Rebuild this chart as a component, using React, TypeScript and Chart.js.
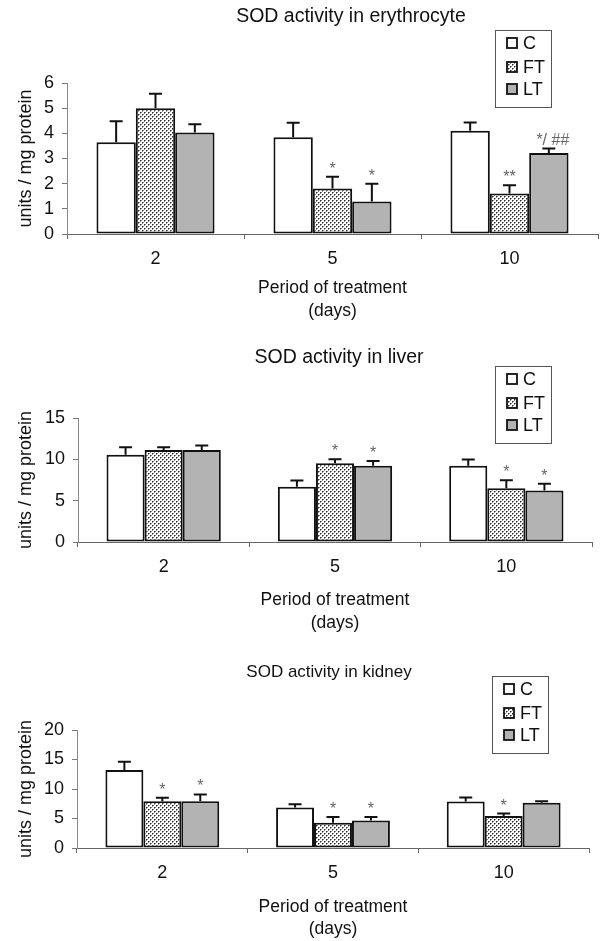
import React, { useEffect, useRef } from 'react';
import { Chart, registerables } from 'chart.js';

Chart.register(...registerables);

const FONT = "'Liberation Sans', Arial, Helvetica, sans-serif";

// ---------- data ----------
const DAYS = ['2', '5', '10'];
const SERIES = ['C', 'FT', 'LT'];
const X_TITLE = ['Period of treatment', '(days)'];
const Y_TITLE = 'units / mg protein';

// SOD activity in erythrocyte
const ERY_C = [3.65, 3.84, 4.1];
const ERY_FT = [5.0, 1.81, 1.61];
const ERY_LT = [4.03, 1.29, 3.22];
const ERY_C_ERR = [0.83, 0.58, 0.33];
const ERY_FT_ERR = [0.57, 0.46, 0.33];
const ERY_LT_ERR = [0.33, 0.71, 0.18];
const ERY_C_SIG = ['', '', ''];
const ERY_FT_SIG = ['', '*', '**'];
const ERY_LT_SIG = ['', '*', '*/ ##'];

// SOD activity in liver
const LIV_C = [10.54, 6.67, 9.21];
const LIV_FT = [11.14, 9.53, 6.51];
const LIV_LT = [11.14, 9.21, 6.23];
const LIV_C_ERR = [0.92, 0.77, 0.76];
const LIV_FT_ERR = [0.32, 0.48, 0.97];
const LIV_LT_ERR = [0.52, 0.6, 0.81];
const LIV_C_SIG = ['', '', ''];
const LIV_FT_SIG = ['', '*', '*'];
const LIV_LT_SIG = ['', '*', '*'];

// SOD activity in kidney
const KID_C = [13.2, 6.86, 7.88];
const KID_FT = [7.93, 4.3, 5.44];
const KID_LT = [7.93, 4.65, 7.65];
const KID_C_ERR = [1.4, 0.56, 0.68];
const KID_FT_ERR = [0.57, 0.97, 0.4];
const KID_LT_ERR = [1.14, 0.62, 0.28];
const KID_C_SIG = ['', '', ''];
const KID_FT_SIG = ['*', '*', '*'];
const KID_LT_SIG = ['*', '*', ''];

// ---------- panels (layout only references the data arrays) ----------
const PANELS = [
  {
    title: 'SOD activity in erythrocyte', titleSize: 19.5, top: 0, height: 325, width: 702,
    yWidth: 67, rightW: 104, titleTop: 5.3, titleBottom: 54.3, xAxisH: 91, xTitleBottom: 2.5,
    yMax: 6, yStep: 1, legendLeft: 495, legendTop: 30,
    values: [ERY_C, ERY_FT, ERY_LT], errors: [ERY_C_ERR, ERY_FT_ERR, ERY_LT_ERR], sig: [ERY_C_SIG, ERY_FT_SIG, ERY_LT_SIG],
  },
  {
    title: 'SOD activity in liver', titleSize: 19.5, top: 325, height: 312, width: 678,
    yWidth: 78, rightW: 86, titleTop: 21.3, titleBottom: 48.3, xAxisH: 95, xTitleBottom: 2.5,
    yMax: 15, yStep: 5, legendLeft: 495, legendTop: 41,
    values: [LIV_C, LIV_FT, LIV_LT], errors: [LIV_C_ERR, LIV_FT_ERR, LIV_LT_ERR], sig: [LIV_C_SIG, LIV_FT_SIG, LIV_LT_SIG],
  },
  {
    title: 'SOD activity in kidney', titleSize: 17, top: 637, height: 304, width: 658,
    yWidth: 77, rightW: 69, titleTop: 24.8, titleBottom: 47.8, xAxisH: 93, xTitleBottom: 0,
    yMax: 20, yStep: 5, legendLeft: 492, legendTop: 39,
    values: [KID_C, KID_FT, KID_LT], errors: [KID_C_ERR, KID_FT_ERR, KID_LT_ERR], sig: [KID_C_SIG, KID_FT_SIG, KID_LT_SIG],
  },
];

function dotPattern(): CanvasPattern | string {
  const c = document.createElement('canvas');
  c.width = 4;
  c.height = 4;
  const g = c.getContext('2d');
  if (!g) return '#ddd';
  g.fillStyle = '#ffffff';
  g.fillRect(0, 0, 4, 4);
  g.fillStyle = '#2a2a2a';
  g.fillRect(0, 0, 1, 1);
  g.fillRect(2, 2, 1, 1);
  g.fillStyle = '#8a8a8a';
  g.fillRect(1, 0, 1, 1);
  g.fillRect(3, 2, 1, 1);
  g.fillRect(0, 1, 1, 1);
  g.fillRect(2, 3, 1, 1);
  const p = g.createPattern(c, 'repeat');
  return p || '#ddd';
}

const overlayPlugin = {
  id: 'overlay',
  afterDatasetsDraw(chart: any) {
    const ctx = chart.ctx;
    const yScale = chart.scales.y;
    chart.data.datasets.forEach((ds: any, di: number) => {
      const meta = chart.getDatasetMeta(di);
      meta.data.forEach((bar: any, i: number) => {
        const v = ds.data[i];
        const e = ds.errors[i];
        const x = bar.x;
        const y0 = yScale.getPixelForValue(v);
        const y1 = yScale.getPixelForValue(v + e);
        ctx.save();
        ctx.strokeStyle = '#111';
        ctx.lineWidth = 2;
        ctx.beginPath();
        ctx.moveTo(x, y0);
        ctx.lineTo(x, y1);
        ctx.moveTo(x - 6.5, y1);
        ctx.lineTo(x + 6.5, y1);
        ctx.stroke();
        const s = ds.sig[i];
        if (s) {
          ctx.fillStyle = '#666';
          ctx.font = `16px ${FONT}`;
          ctx.textAlign = 'center';
          ctx.textBaseline = 'alphabetic';
          ctx.fillText(s, x + (s.length > 2 ? 4 : 0), y1 - 3);
        }
        ctx.restore();
      });
    });
  },
  afterDraw(chart: any) {
    const opts = chart.options.plugins.boxLegend;
    if (!opts) return;
    const ctx = chart.ctx;
    const left = opts.left;
    const top = opts.top;
    const w = 56;
    const h = 77;
    ctx.save();
    ctx.fillStyle = '#fff';
    ctx.fillRect(left, top, w, h);
    ctx.strokeStyle = '#555';
    ctx.lineWidth = 1;
    ctx.strokeRect(left + 0.5, top + 0.5, w, h);
    const rows = [13, 37, 59];
    chart.data.datasets.forEach((ds: any, i: number) => {
      const cy = top + rows[i];
      ctx.fillStyle = ds.backgroundColor;
      ctx.fillRect(left + 12, cy - 5, 10, 10);
      ctx.strokeStyle = '#111';
      ctx.lineWidth = 1.8;
      ctx.strokeRect(left + 12, cy - 5, 10, 10);
      ctx.fillStyle = '#111';
      ctx.font = `18px ${FONT}`;
      ctx.textAlign = 'left';
      ctx.textBaseline = 'middle';
      ctx.fillText(ds.label, left + 28, cy + 1);
    });
    ctx.restore();
  },
};

function Panel({ p }: { p: any }) {
  const ref = useRef<HTMLCanvasElement | null>(null);
  useEffect(() => {
    if (!ref.current) return;
    const pattern = dotPattern();
    const fills = ['#ffffff', pattern, '#b3b3b3'];
    const chart = new Chart(ref.current, {
      type: 'bar',
      data: {
        labels: DAYS,
        datasets: SERIES.map((name, i) => ({
          label: name,
          data: p.values[i],
          errors: p.errors[i],
          sig: p.sig[i],
          backgroundColor: fills[i],
          borderColor: '#111',
          borderWidth: 2,
          borderSkipped: false,
          categoryPercentage: 0.667,
          barPercentage: 1.0,
          yAxisID: 'y',
        })) as any,
      },
      options: {
        responsive: false,
        animation: false,
        events: [],
        layout: { padding: 0 },
        plugins: {
          legend: { display: false },
          tooltip: { enabled: false },
          title: {
            display: true,
            text: p.title,
            color: '#111',
            font: { family: FONT, size: p.titleSize, weight: 'normal', lineHeight: 1.2 },
            padding: { top: p.titleTop, bottom: p.titleBottom },
          },
          boxLegend: { left: p.legendLeft, top: p.legendTop },
        } as any,
        scales: {
          x: {
            grid: { display: true, drawOnChartArea: false, drawTicks: true, tickLength: 5, color: '#666', offset: true },
            border: { display: true, color: '#666', width: 1 },
            ticks: { color: '#111', font: { family: FONT, size: 18 }, padding: 9 },
            title: {
              display: true,
              text: X_TITLE,
              color: '#111',
              font: { family: FONT, size: 17.5, lineHeight: 1.3 },
              padding: { top: 2, bottom: p.xTitleBottom },
            },
            afterFit: (s: any) => { s.height = p.xAxisH; },
          },
          y: {
            min: 0,
            max: p.yMax,
            grid: { display: true, drawOnChartArea: false, drawTicks: true, tickLength: 5, color: '#777' },
            border: { display: true, color: '#888', width: 1 },
            ticks: { stepSize: p.yStep, color: '#111', font: { family: FONT, size: 18 }, padding: 8 },
            title: {
              display: true,
              text: Y_TITLE,
              color: '#111',
              font: { family: FONT, size: 18, lineHeight: 1.2 },
              padding: { top: 15, bottom: 0 },
            },
            afterFit: (s: any) => { s.width = p.yWidth; },
          },
          yR: {
            type: 'linear',
            position: 'right',
            display: true,
            grid: { display: false, drawTicks: false },
            border: { display: false },
            ticks: { display: false },
            afterFit: (s: any) => { s.width = p.rightW; },
          },
        } as any,
      },
      plugins: [overlayPlugin],
    });
    return () => chart.destroy();
  }, [p]);
  return (
    <div style={{ position: 'absolute', left: 0, top: p.top, width: 607, height: p.height, overflow: 'hidden' }}>
      <canvas ref={ref} width={p.width} height={p.height} style={{ display: 'block', width: p.width, height: p.height }} />
    </div>
  );
}

export default function App() {
  return (
    <div style={{ position: 'absolute', left: 0, top: 0, width: 607, height: 941, overflow: 'hidden', background: '#fff' }}>
      {PANELS.map((p, i) => (
        <Panel key={i} p={p} />
      ))}
    </div>
  );
}
